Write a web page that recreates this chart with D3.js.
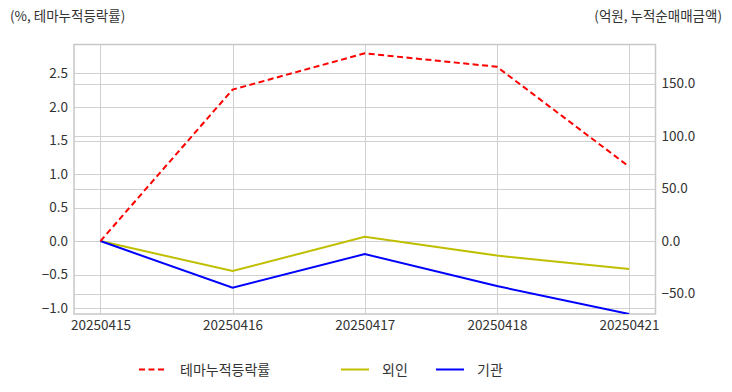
<!DOCTYPE html>
<html><head><meta charset="utf-8">
<script src="https://cdn.jsdelivr.net/npm/d3@7"></script>
<style>body{margin:0;background:#fff}svg{display:block}text{font-family:"Noto Sans CJK KR","Noto Sans",sans-serif}</style>
</head><body><svg id="c" width="732" height="392"></svg>
<script>
const dates = ["20250415","20250416","20250417","20250418","20250421"];
const themeRate = [0, 2.26, 2.80, 2.60, 1.11];
const foreign = [0, -28.6, 4.1, -13.8, -26.7];
const institution = [0, -44.5, -12.4, -42.9, -69.5];
const leftTicks = [-1.0, -0.5, 0.0, 0.5, 1.0, 1.5, 2.0, 2.5];
const rightTicks = [-50, 0, 50, 100, 150];
const seriesNames = ["테마누적등락률", "외인", "기관"];

const svg = d3.select("#c");
const L = 74, R = 655.5, T = 44.5, B = 314;
const x = d3.scalePoint().domain(dates).range([L, R]).padding(0.2);
const yL = d3.scaleLinear().domain([-1.088, 2.932]).range([B, T]);
const yR = d3.scaleLinear().domain([-69.5, 187.3]).range([B, T]);
const grid = "#d0d0d0", txt = "#333";

const g = svg.append("g");
g.selectAll(".gl").data(leftTicks).enter().append("line")
  .attr("x1", L).attr("x2", R).attr("y1", d => Math.round(yL(d)) + 0.5).attr("y2", d => Math.round(yL(d)) + 0.5)
  .attr("stroke", grid).attr("stroke-width", 1);
g.selectAll(".gr").data(rightTicks).enter().append("line")
  .attr("x1", L).attr("x2", R).attr("y1", d => Math.round(yR(d)) + 0.5).attr("y2", d => Math.round(yR(d)) + 0.5)
  .attr("stroke", grid).attr("stroke-width", 1);
g.selectAll(".gx").data(dates).enter().append("line")
  .attr("x1", d => Math.round(x(d)) + 0.5).attr("x2", d => Math.round(x(d)) + 0.5).attr("y1", T).attr("y2", B)
  .attr("stroke", grid).attr("stroke-width", 1);
g.append("rect").attr("x", L).attr("y", T).attr("width", R - L).attr("height", B - T)
  .attr("fill", "none").attr("stroke", "#c8c8c8").attr("stroke-width", 1.5);

const axL = d3.axisLeft(yL).tickValues(leftTicks).tickFormat(d3.format(".1f")).tickSize(0).tickPadding(6);
const axR = d3.axisRight(yR).tickValues(rightTicks).tickFormat(d3.format(".1f")).tickSize(0).tickPadding(6);
const axB = d3.axisBottom(x).tickSize(0).tickPadding(6);
function style(sel){ sel.select(".domain").remove(); sel.selectAll("text").attr("fill", txt).style("font-size", "13.5px"); }
svg.append("g").attr("transform", `translate(${L},0)`).call(axL).call(style);
svg.append("g").attr("transform", `translate(${R},0)`).call(axR).call(style);
svg.append("g").attr("transform", `translate(0,${B})`).call(axB).call(style);

svg.append("clipPath").attr("id", "clip").append("rect").attr("x", L).attr("y", T - 2).attr("width", R - L).attr("height", B - T + 2);
const lines = svg.append("g").attr("clip-path", "url(#clip)");
const lineL = d3.line().x((d, i) => x(dates[i])).y(d => yL(d));
const lineR = d3.line().x((d, i) => x(dates[i])).y(d => yR(d));
lines.append("path").attr("d", lineR(foreign)).attr("fill", "none").attr("stroke", "#bfbf00").attr("stroke-width", 2);
lines.append("path").attr("d", lineR(institution)).attr("fill", "none").attr("stroke", "#0000ff").attr("stroke-width", 2);
lines.append("path").attr("d", lineL(themeRate)).attr("fill", "none").attr("stroke", "#ff0000").attr("stroke-width", 2).attr("stroke-dasharray", "6,3.5");

svg.append("text").attr("x", 10).attr("y", 21).text("(%, 테마누적등락률)").attr("fill", txt).style("font-size", "13.5px");
svg.append("text").attr("x", 722).attr("y", 21).attr("text-anchor", "end").text("(억원, 누적순매매금액)").attr("fill", txt).style("font-size", "13.5px");

const leg = [
  {name: seriesNames[0], color: "#ff0000", dash: "6,3.5", x: 139},
  {name: seriesNames[1], color: "#bfbf00", dash: null, x: 341},
  {name: seriesNames[2], color: "#0000ff", dash: null, x: 436}
];
const lg = svg.append("g");
leg.forEach(l => {
  lg.append("line").attr("x1", l.x).attr("x2", l.x + 28).attr("y1", 369.5).attr("y2", 369.5)
    .attr("stroke", l.color).attr("stroke-width", 2).attr("stroke-dasharray", l.dash);
  lg.append("text").attr("x", l.x + 41).attr("y", 374.5).text(l.name).attr("fill", txt).style("font-size", "14px");
});
</script></body></html>
